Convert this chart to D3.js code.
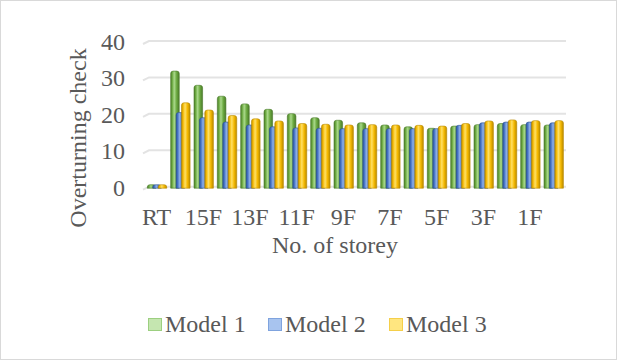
<!DOCTYPE html>
<html>
<head>
<meta charset="utf-8">
<script src="https://cdn.jsdelivr.net/npm/d3@7"></script>
<style>
  html, body { margin: 0; padding: 0; background: #fff; }
  svg { display: block; }
  text { font-family: "Liberation Serif", "Times New Roman", serif; fill: #595959; }
</style>
</head>
<body>
<svg id="chart" width="617" height="360"></svg>
<script>
// Storey labels (top to bottom of the building)
const categories = ["RT","16F","15F","14F","13F","12F","11F","10F","9F","8F","7F","6F","5F","4F","3F","2F","1F","B1"];
const seriesNames = ["Model 1", "Model 2", "Model 3"];
const model1 = [0.4, 31.6, 27.7, 24.7, 22.6, 21.1, 19.9, 18.8, 18.1, 17.4, 16.8, 16.3, 15.9, 16.5, 16.9, 17.2, 16.9, 16.8];
const model2 = [0.4, 20.2, 18.8, 17.6, 16.8, 16.3, 16.0, 15.9, 15.8, 15.8, 15.8, 15.8, 15.8, 16.7, 17.4, 17.6, 17.6, 17.4];
const model3 = [0.4, 22.9, 20.9, 19.4, 18.5, 17.9, 17.2, 17.0, 16.8, 16.9, 16.8, 16.7, 16.5, 17.2, 17.9, 18.2, 18.0, 18.0];
const yTicks = [0, 10, 20, 30, 40];
const shownLabels = ["RT","15F","13F","11F","9F","7F","5F","3F","1F"];

const seriesValues = [model1, model2, model3];
const palette = [
  { dark: "#4a7a2a", mid: "#6aa83f", light: "#a9d88a", legend: "#c5e6b0", legendEdge: "#9ccf80" },
  { dark: "#2c5294", mid: "#4472c4", light: "#8fb0e6", legend: "#a8c4ef", legendEdge: "#7fa3de" },
  { dark: "#b88a00", mid: "#f4b800", light: "#ffe066", legend: "#ffe680", legendEdge: "#f5cf4a" }
];
const FS = 24;

const svg = d3.select("#chart");

// chart frame
svg.append("rect").attr("x", 0.5).attr("y", 0.5).attr("width", 616).attr("height", 359)
  .attr("fill", "#fff").attr("stroke", "#d9d9d9");

const defs = svg.append("defs");
palette.forEach((p, i) => {
  const g = defs.append("linearGradient").attr("id", "grad" + i)
    .attr("x1", "0%").attr("x2", "100%").attr("y1", "0%").attr("y2", "0%");
  [[0, p.dark], [0.18, p.mid], [0.42, p.light], [0.7, p.mid], [1, p.dark]].forEach(([o, c]) =>
    g.append("stop").attr("offset", o).attr("stop-color", c));
});

const x = d3.scaleBand().domain(categories).range([145, 565]).paddingInner(0.2).paddingOuter(0.1);
const y = d3.scaleLinear().domain([0, 40]).range([186.7, 41]);
const bw = x.bandwidth();
const sub = d3.scalePoint().domain(seriesNames).range([0, bw * 0.58]);
const barW = bw * 0.46;

// gridlines with a small perspective kink at the back wall
svg.append("g").selectAll("path").data(yTicks).join("path")
  .attr("d", d => `M143,${y(d) + 3}L149,${y(d)}H566`)
  .attr("fill", "none").attr("stroke", "#e3e3e3").attr("stroke-width", 2);

// y axis labels
const yAxis = d3.axisLeft(y).tickValues(yTicks).tickSize(0).tickPadding(0);
const gy = svg.append("g").attr("transform", "translate(125,0)").call(yAxis);
gy.select(".domain").remove();
gy.selectAll("text").attr("font-size", FS).attr("dy", "0.35em")
  .style("font-family", "Liberation Serif, serif").attr("fill", "#595959");

// x axis labels (every other storey)
const xAxis = d3.axisBottom(x).tickSize(0).tickPadding(0)
  .tickFormat(d => shownLabels.includes(d) ? d : "");
const gx = svg.append("g").attr("transform", "translate(0,225)").call(xAxis);
gx.select(".domain").remove();
gx.selectAll("text").attr("font-size", FS).attr("dy", 0)
  .style("font-family", "Liberation Serif, serif").attr("fill", "#595959");

function barPath(x0, w, top, base) {
  const r = Math.min(w / 2, 2.5, Math.max(0, base - top));
  return `M${x0},${base}V${top + r}Q${x0},${top} ${x0 + r},${top}H${x0 + w - r}Q${x0 + w},${top} ${x0 + w},${top + r}V${base}Z`;
}

// bars: drawn back to front (Model 1, Model 2, Model 3)
seriesNames.forEach((name, si) => {
  const vals = seriesValues[si];
  const g = svg.append("g");
  g.selectAll("path").data(categories).join("path")
    .attr("d", (c, i) => barPath(x(c) + sub(name), barW, y(vals[i]) - 0.5, y(0) + 1.5))
    .attr("fill", `url(#grad${si})`)
    .attr("stroke", palette[si].dark).attr("stroke-width", 0.6);
});

// axis titles
svg.append("text").attr("transform", "translate(86,138) rotate(-90)")
  .attr("text-anchor", "middle").attr("font-size", FS).text("Overturning check");
svg.append("text").attr("x", 335).attr("y", 253)
  .attr("text-anchor", "middle").attr("font-size", FS).text("No. of storey");

// legend
const legendX = [148, 268, 389];
const lg = svg.append("g");
seriesNames.forEach((name, i) => {
  lg.append("rect").attr("x", legendX[i] + 0.5).attr("y", 318.5).attr("width", 13).attr("height", 12)
    .attr("fill", palette[i].legend).attr("stroke", palette[i].legendEdge);
  lg.append("text").attr("x", legendX[i] + 17).attr("y", 332).attr("font-size", FS).text(name);
});
</script>
</body>
</html>
